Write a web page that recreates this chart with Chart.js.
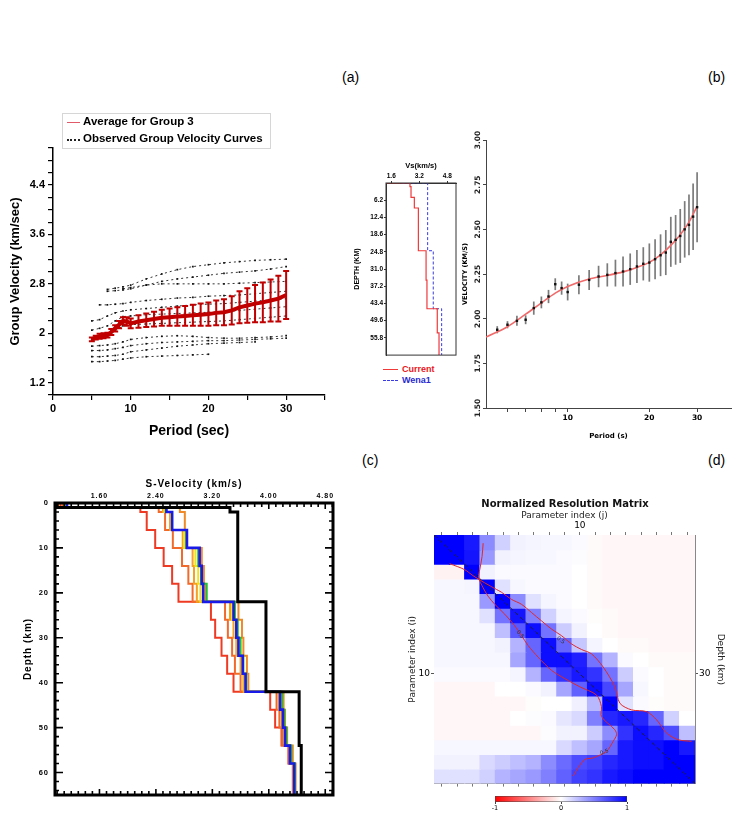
<!DOCTYPE html>
<html>
<head>
<meta charset="utf-8">
<script src="https://cdn.jsdelivr.net/npm/chart.js@4.4.1/dist/chart.umd.min.js"></script>
<style>
  html,body{margin:0;padding:0;background:#fff;}
  #page{position:relative;width:735px;height:820px;overflow:hidden;background:#fff;font-family:"Liberation Sans",Arial,sans-serif;}
  #page canvas{position:absolute;}
  .plab{position:absolute;font-size:14px;line-height:16px;color:#000;}
  .leg{position:absolute;font-family:"Liberation Sans",Arial,sans-serif;font-weight:bold;white-space:nowrap;}
  .leg div{position:absolute;}
</style>
</head>
<body>
<div id="page">
  <div class="plab" style="left:342px;top:69px;">(a)</div>
  <div class="plab" style="left:708px;top:69px;">(b)</div>
  <div class="plab" style="left:362px;top:452px;">(c)</div>
  <div class="plab" style="left:708px;top:452px;">(d)</div>

  <canvas id="cA" width="345" height="340" style="left:0;top:100px;"></canvas>
  <canvas id="cInset" width="120" height="200" style="left:350px;top:160px;"></canvas>
  <canvas id="cB" width="280" height="320" style="left:455px;top:120px;"></canvas>
  <canvas id="cC" width="345" height="340" style="left:0;top:470px;"></canvas>
  <canvas id="cD" width="340" height="300" style="left:395px;top:490px;"></canvas>
  <canvas id="cBar" width="165" height="26" style="left:480px;top:792px;"></canvas>

  <div class="leg" style="left:62px;top:113px;width:207px;height:34px;border:1px solid #d6d6d6;font-size:11.5px;">
    <div style="left:4px;top:8px;width:13px;height:0;border-top:1.5px solid #e05a6a;"></div>
    <div style="left:20px;top:1px;">Average for Group 3</div>
    <div style="left:4px;top:25px;width:13px;height:0;border-top:2px dotted #222;"></div>
    <div style="left:20px;top:18px;">Observed Group Velocity Curves</div>
  </div>

  <div class="leg" style="left:383px;top:364px;font-size:9px;">
    <div style="left:0;top:5px;width:15px;height:0;border-top:1.2px solid #f03a3a;"></div>
    <div style="left:19px;top:0;color:#e8141c;">Current</div>
    <div style="left:0;top:16px;width:15px;height:0;border-top:1.2px dashed #3a3ae6;"></div>
    <div style="left:19px;top:11px;color:#2a2ad0;">Wena1</div>
  </div>
</div>

<script>
// ================= DATA =================
// ---- Panel (a): group velocity curves
const aPeriods = [5,5.5,6,6.5,7,7.5,8,8.5,9,9.5,10,11,12,13,14,15,16,17,18,19,20,21,22,23,24,25,26,27,28,29,30];
const aAverage = [1.90,1.93,1.95,1.96,1.97,2.02,2.08,2.14,2.20,2.19,2.16,2.19,2.21,2.23,2.25,2.26,2.27,2.28,2.29,2.30,2.31,2.33,2.34,2.37,2.42,2.45,2.48,2.50,2.53,2.56,2.62];
const aError   = [0.03,0.03,0.04,0.04,0.04,0.05,0.05,0.06,0.06,0.07,0.08,0.10,0.11,0.12,0.13,0.14,0.15,0.16,0.17,0.18,0.19,0.20,0.21,0.23,0.26,0.28,0.30,0.32,0.34,0.37,0.39];
const aObsPeriods = [5,6,7,8,9,10,12,14,16,18,20,22,24,26,28,30];
const aObs1  = [null,null,2.71,2.73,2.75,2.78,2.88,2.96,3.03,3.08,3.11,3.14,3.16,3.18,3.19,3.20];
const aObs2  = [null,null,2.68,2.69,2.70,2.72,2.78,2.84,2.88,2.91,2.94,2.97,2.99,3.01,3.04,3.08];
const aObs3  = [null,null,null,null,2.72,2.74,2.78,2.80,2.80,2.80,2.80,2.80,2.81,2.82,2.83,2.84];
const aObs4  = [null,2.46,2.46,2.47,2.48,2.50,2.53,2.55,2.57,2.58,2.60,2.61,2.62,2.64,2.66,2.68];
const aObs5  = [2.20,2.22,2.28,2.33,2.36,2.38,2.40,2.42,2.44,2.46,2.47,2.48,2.50,2.52,2.54,2.56];
const aObs6  = [2.05,2.08,2.12,2.20,2.27,2.28,2.30,2.31,2.32,2.33,2.34,2.35,2.37,2.39,2.41,2.43];
const aObs7  = [1.92,1.94,1.98,2.04,2.12,2.14,2.15,2.16,2.17,2.18,2.19,2.20,2.22,2.24,2.26,2.28];
const aObs8  = [1.79,1.80,1.81,1.83,1.86,1.90,1.93,1.95,1.96,1.95,1.93,1.92,1.92,1.93,1.94,1.96];
const aObs9  = [1.72,1.72,1.73,1.75,1.77,1.80,1.83,1.85,1.86,1.87,1.88,1.88,1.89,1.90,1.91,1.92];
const aObs10 = [1.62,1.62,1.63,1.64,1.66,1.70,1.73,1.76,1.79,1.81,1.83,1.84,1.85,1.86,null,null];
const aObs11 = [1.54,1.54,1.55,1.56,1.58,1.60,1.62,1.63,1.64,1.65,1.66,null,null,null,null,null];
const aObserved = [aObs1,aObs2,aObs3,aObs4,aObs5,aObs6,aObs7,aObs8,aObs9,aObs10,aObs11];
const aXLabelValues = [0,10,20,30];
const aYLabelValues = [1.2,2,2.8,3.6,4.4];
const aYLabels = ['1.2','2','2.8','3.6','4.4'];

// ---- Panel (b): dispersion fit
const bPeriods = [5.5,6,6.5,7,7.5,8,8.5,9,9.5,10,11,12,13,14,15,16,17,18,19,20,21,22,23,24,25,26,27,28,29,30];
const bVelocity = [1.938,1.966,1.988,1.994,2.059,2.091,2.124,2.193,2.171,2.149,2.190,2.217,2.236,2.245,2.255,2.264,2.277,2.292,2.307,2.314,2.333,2.355,2.370,2.430,2.441,2.463,2.500,2.525,2.571,2.624];
const bError = [0.020,0.020,0.028,0.025,0.037,0.033,0.037,0.033,0.037,0.047,0.053,0.056,0.060,0.065,0.075,0.084,0.088,0.093,0.093,0.107,0.112,0.117,0.126,0.140,0.139,0.151,0.158,0.170,0.186,0.196];
const bFitPeriods = [5,6,7,8,9,10,12,14,16,18,20,22,24,26,28,30];
const bFitVelocity = [1.897,1.955,2.025,2.088,2.143,2.180,2.222,2.242,2.262,2.287,2.315,2.357,2.410,2.470,2.540,2.630];
const bXTickValues = [6,7,8,9,10,20,30];
const bXLabelValues = [10,20,30];
const bYTickValues = [1.5,1.75,2.0,2.25,2.5,2.75,3.0];

// ---- Panel (b) inset: Vs profiles
const insetCurrentDepth = [0,0,1.3,5.2,9.0,24.4,35,45.3,54,62];
const insetCurrentVs    = [1.3,2.67,2.73,2.92,3.15,3.59,3.64,4.23,4.33,4.33];
const insetWenaDepth = [0,0,24.4,45.3,62];
const insetWenaVs    = [2.2,3.68,4.0,4.48,4.48];
const insetVsTicks = [1.6,3.2,4.8];
const insetDepthTicks = [6.2,12.4,18.6,24.8,31.0,37.2,43.4,49.6,55.8];

// ---- Panel (c): S-velocity models (layer tops in km)
const cLayerTop = [0,1,2,6,10,14,18,22,26,30,34,38,42,46,50,54,58];
const cBottom = 65;
const cBlack   = [1.00,3.45,3.56,3.56,3.56,3.56,3.56,3.96,3.96,3.96,3.96,3.96,4.43,4.43,4.43,4.46,4.46];
const cBlue    = [1.14,2.55,2.63,2.84,3.02,3.05,3.07,3.50,3.54,3.57,3.63,3.67,4.16,4.20,4.23,4.30,4.36];
const cRed     = [1.05,2.18,2.27,2.39,2.51,2.63,2.72,3.18,3.24,3.33,3.41,3.50,4.02,4.09,4.18,4.28,4.35];
const cRedOrange = [1.08,2.44,2.53,2.64,2.77,2.86,2.92,3.38,3.42,3.48,3.52,3.60,4.11,4.15,4.19,4.28,4.34];
const cOrange  = [1.10,2.50,2.60,2.78,2.92,2.94,2.98,3.45,3.50,3.54,3.60,3.64,4.14,4.18,4.22,4.30,4.35];
const cYellow  = [1.12,2.52,2.62,2.80,2.96,3.00,3.03,3.48,3.53,3.56,3.62,3.66,4.16,4.20,4.24,4.31,4.36];
const cGreen   = [1.13,2.54,2.63,2.83,3.00,3.04,3.12,3.52,3.56,3.60,3.64,3.68,4.19,4.22,4.25,4.32,4.37];
const cOrange2 = [1.02,2.74,2.81,2.84,3.05,3.08,3.10,3.57,3.62,3.64,3.69,3.71,4.21,4.23,4.26,4.34,4.38];
const cXLabelValues = [1.6,2.4,3.2,4.0,4.8];
const cYLabelValues = [0,10,20,30,40,50,60];

// ---- Panel (d): normalized resolution matrix (rows i, cols j)
const resMatrix = [
  [1.00,1.00,0.90,0.45,0.18,0.05,0.04,0.03,0.03,0.02,-0.02,-0.03,-0.03,-0.03,-0.03,-0.03,-0.03],
  [1.00,1.00,0.92,0.40,0.05,0.04,0.03,0.03,0.02,0.01,-0.02,-0.03,-0.03,-0.03,-0.03,-0.03,-0.03],
  [-0.05,-0.05,1.00,0.05,0.02,0.02,0.02,0.02,0.02,0.00,-0.02,-0.03,-0.03,-0.03,-0.03,-0.03,-0.03],
  [0.03,0.03,0.04,1.00,0.12,0.03,0.02,0.02,0.02,0.00,-0.02,-0.03,-0.03,-0.03,-0.03,-0.03,-0.03],
  [0.03,0.03,0.03,0.40,1.00,0.45,0.12,0.04,0.02,0.00,-0.02,-0.03,-0.03,-0.03,-0.03,-0.03,-0.03],
  [0.03,0.03,0.03,0.12,0.55,0.92,0.50,0.18,0.04,0.02,-0.01,-0.02,-0.03,-0.03,-0.03,-0.03,-0.03],
  [0.03,0.03,0.03,0.03,0.25,0.65,0.95,0.55,0.20,0.05,0.00,-0.02,-0.03,-0.03,-0.03,-0.03,-0.03],
  [0.03,0.03,0.03,0.03,0.05,0.30,0.60,0.95,0.60,0.22,0.04,0.00,-0.02,-0.02,-0.03,-0.03,-0.03],
  [0.03,0.03,0.03,0.03,0.03,0.35,0.60,0.95,0.95,0.88,0.55,0.30,0.02,0.00,-0.02,-0.02,-0.02],
  [0.02,0.02,0.02,0.02,0.02,0.04,0.30,0.60,0.80,0.90,0.80,0.55,0.20,0.02,0.00,-0.02,-0.02],
  [-0.03,-0.03,-0.03,-0.03,0.00,0.00,0.02,0.05,0.35,0.62,0.95,0.72,0.35,0.03,0.00,-0.02,-0.02],
  [-0.03,-0.03,-0.03,-0.03,-0.03,-0.03,-0.01,0.00,0.00,0.06,0.28,1.00,0.12,0.02,-0.01,-0.02,-0.02],
  [-0.03,-0.03,-0.03,-0.03,-0.03,0.00,0.01,0.02,0.10,0.15,0.50,0.85,0.90,0.85,0.60,0.18,0.00],
  [-0.03,-0.03,-0.03,-0.03,-0.03,-0.03,-0.03,0.01,0.05,0.05,0.20,0.45,0.80,0.95,0.85,0.70,0.25],
  [0.03,0.03,0.03,0.03,0.03,0.03,0.03,0.03,0.15,0.25,0.35,0.60,0.90,0.95,0.95,1.00,0.90],
  [0.05,0.05,0.05,0.15,0.20,0.25,0.30,0.45,0.58,0.70,0.75,0.85,0.90,0.95,0.95,1.00,1.00],
  [0.12,0.12,0.12,0.18,0.30,0.35,0.40,0.50,0.62,0.75,0.80,0.90,0.95,1.00,1.00,1.00,1.00]
];
const dContourUpper = [[1.52,2.46],[2.5,2.87],[3.04,3.28],[3.8,3.77],[4.56,4.22],[4.89,4.41],[5.54,4.9],[6.2,5.24],[6.85,5.8],[7.5,6.37],[8.15,6.93],[8.8,7.38],[9.46,7.95],[10.11,8.33],[10.76,8.63],[11.52,9.53],[12.28,10.88],[12.61,12.01],[13.37,12.46],[14.35,12.58],[15.0,13.14],[15.65,14.04],[16.41,14.5],[17.28,14.61]];
const dContourLower = [[3.7,1.06],[3.63,1.97],[3.48,2.87],[3.4,3.4],[3.7,4.11],[4.02,4.68],[4.46,5.24],[5.11,5.92],[5.76,6.71],[6.2,7.38],[6.63,8.06],[7.28,8.85],[8.15,9.75],[9.02,10.32],[10.0,10.88],[11.09,11.45],[11.41,12.24],[11.41,12.92],[12.28,13.82],[12.39,14.16],[12.17,14.61],[11.74,15.29],[10.87,15.74],[10.33,15.85],[9.89,16.41],[9.57,16.98]];
const dContourLabels = [{x:6.1,y:7.3,rot:0.9,text:'0.5'},{x:8.75,y:7.7,rot:0.6,text:'0.5'},{x:11.6,y:15.35,rot:-0.35,text:'0.5'}];
const dColumns = [1,2,3,4,5,6,7,8,9,10,11,12,13,14,15,16,17];
const dLabelIndex = 10;
const dDepthTickLabel = '30';
const cbTicks = [-1,0,1];

// ================= HELPERS =================
Chart.defaults.animation = false;
Chart.defaults.events = [];
Chart.defaults.plugins.legend.display = false;
Chart.defaults.plugins.tooltip.enabled = false;
Chart.defaults.color = '#000';
Chart.defaults.font.family = '"Liberation Sans", Arial, sans-serif';

const range = (a, b, s) => { const o = []; for (let k = 0; a + k * s <= b + 1e-9; k++) o.push(Math.round((a + k * s) * 1000) / 1000); return o; };
const setTicks = vals => scale => { scale.ticks = vals.map(v => ({ value: v })); };
const fixWidth = w => scale => { scale.width = w; };
const fixHeight = h => scale => { scale.height = h; };
const near = (a, b) => Math.abs(a - b) < 1e-6;
const pts = (xs, ys) => xs.map((x, i) => (ys[i] == null ? null : { x: x, y: ys[i] })).filter(Boolean);

function errorBars(id, xs, centers, errs, color, width, cap, before) {
  const draw = chart => {
    const xS = chart.scales.x, yS = chart.scales.y, ctx = chart.ctx;
    ctx.save(); ctx.strokeStyle = color; ctx.lineWidth = width;
    xs.forEach((xv, i) => {
      const px = xS.getPixelForValue(xv);
      const y1 = yS.getPixelForValue(centers[i] - errs[i]);
      const y2 = yS.getPixelForValue(centers[i] + errs[i]);
      ctx.beginPath(); ctx.moveTo(px, y1); ctx.lineTo(px, y2);
      if (cap) { ctx.moveTo(px - cap, y1); ctx.lineTo(px + cap, y1); ctx.moveTo(px - cap, y2); ctx.lineTo(px + cap, y2); }
      ctx.stroke();
    });
    ctx.restore();
  };
  return before ? { id, beforeDatasetsDraw: draw } : { id, afterDatasetsDraw: draw };
}
function framePlugin(id, width, color) {
  return { id, afterDraw(chart) { const a = chart.chartArea, ctx = chart.ctx; ctx.save(); ctx.strokeStyle = color; ctx.lineWidth = width; ctx.strokeRect(a.left, a.top, a.right - a.left, a.bottom - a.top); ctx.restore(); } };
}

// ================= PANEL (a) =================
const aYTickValues = range(1, 5, 0.2);
new Chart(document.getElementById('cA'), {
  type: 'line',
  data: { datasets: [
    { data: pts(aPeriods, aAverage), borderColor: '#c00000', borderWidth: 4, pointRadius: 0, order: 0 },
    ...aObserved.map(c => ({ data: pts(aObsPeriods, c), borderColor: '#333', borderWidth: 1, borderDash: [2, 3],
      pointRadius: 1.2, pointStyle: 'rect', pointBackgroundColor: '#111', pointBorderWidth: 0, order: 1 }))
  ]},
  options: {
    responsive: false,
    layout: { padding: { left: 6, right: 20, top: 48, bottom: 0 } },
    scales: {
      x: { type: 'linear', min: 0, max: 35, afterBuildTicks: setTicks(range(0, 35, 5)), afterFit: fixHeight(45),
        ticks: { autoSkip: false, maxRotation: 0, padding: 2, font: { size: 11, weight: 'bold' },
          callback: v => aXLabelValues.includes(v) ? String(v) : '' },
        grid: { drawOnChartArea: false, tickLength: 5, color: '#000', lineWidth: 1.2 },
        border: { color: '#000', width: 1.5 },
        title: { display: true, text: 'Period (sec)', font: { size: 14, weight: 'bold' }, padding: { top: 2, bottom: 0 } } },
      y: { type: 'linear', min: 1, max: 5, afterBuildTicks: setTicks(aYTickValues), afterFit: fixWidth(47),
        ticks: { autoSkip: false, padding: 3, font: { size: 11, weight: 'bold' },
          callback: v => { const k = aYLabelValues.findIndex(t => near(t, v)); return k >= 0 ? aYLabels[k] : ''; } },
        grid: { drawOnChartArea: false, tickLength: 5, color: '#000', lineWidth: 1.2 },
        border: { color: '#000', width: 1.5 },
        title: { display: true, text: 'Group Velocity (km/sec)', font: { size: 13, weight: 'bold' }, padding: { top: 2, bottom: 0 } } }
    }
  },
  plugins: [errorBars('aErr', aPeriods, aAverage, aError, '#c00000', 2, 3, false)]
});

// ================= PANEL (b) inset =================
new Chart(document.getElementById('cInset'), {
  type: 'line',
  data: { datasets: [
    { data: pts(insetCurrentVs, insetCurrentDepth), stepped: 'after', borderColor: '#f03a3a', borderWidth: 1.2, pointRadius: 0 },
    { data: pts(insetWenaVs, insetWenaDepth), stepped: 'after', borderColor: '#3a3ae6', borderWidth: 1, borderDash: [3, 2], pointRadius: 0 }
  ]},
  options: {
    responsive: false,
    layout: { padding: { left: 0, right: 14, top: 0, bottom: 2 } },
    scales: {
      x: { type: 'linear', position: 'top', min: 1.3, max: 5.3, afterBuildTicks: setTicks(insetVsTicks), afterFit: fixHeight(23),
        ticks: { autoSkip: false, maxRotation: 0, padding: 1, font: { size: 6.5, weight: 'bold' }, callback: v => v.toFixed(1) },
        grid: { drawOnChartArea: false, tickLength: 2, color: '#333' }, border: { color: '#333', width: 1 },
        title: { display: true, text: 'Vs(km/s)', font: { size: 7.5, weight: 'bold' }, padding: { top: 1, bottom: 0 } } },
      y: { type: 'linear', reverse: true, min: 0, max: 62, afterBuildTicks: setTicks(insetDepthTicks), afterFit: fixWidth(36),
        ticks: { autoSkip: false, padding: 1, font: { size: 6.5, weight: 'bold' }, callback: v => v.toFixed(1) },
        grid: { drawOnChartArea: false, tickLength: 2, color: '#333' }, border: { color: '#333', width: 1 },
        title: { display: true, text: 'DEPTH (KM)', font: { size: 7, weight: 'bold' }, padding: { top: 3, bottom: 0 } } }
    }
  },
  plugins: [framePlugin('insetFrame', 1, '#333')]
});

// ================= PANEL (b) =================
const bRotLabels = { id: 'bRotLabels', afterDraw(chart) {
  const s = chart.scales.y, ctx = chart.ctx;
  ctx.save(); ctx.font = 'bold 7.5px "DejaVu Sans", Verdana, sans-serif'; ctx.fillStyle = '#222';
  ctx.textAlign = 'center'; ctx.textBaseline = 'middle';
  bYTickValues.forEach(v => { ctx.save(); ctx.translate(s.right - 8, s.getPixelForValue(v)); ctx.rotate(-Math.PI / 2); ctx.fillText(v.toFixed(2), 0, 0); ctx.restore(); });
  ctx.restore();
} };
new Chart(document.getElementById('cB'), {
  type: 'line',
  data: { datasets: [
    { data: pts(bPeriods, bVelocity), showLine: false, pointRadius: 1.7, pointStyle: 'rect', pointBackgroundColor: '#111', pointBorderWidth: 0, order: 0 },
    { data: pts(bFitPeriods, bFitVelocity), borderColor: '#f06a6a', borderWidth: 1.6, pointRadius: 0, cubicInterpolationMode: 'monotone', order: 1 }
  ]},
  options: {
    responsive: false,
    layout: { padding: { left: 0, right: 2, top: 20, bottom: 0 } },
    scales: {
      x: { type: 'logarithmic', min: 5, max: 40, afterBuildTicks: setTicks(bXTickValues), afterFit: fixHeight(32),
        ticks: { autoSkip: false, maxRotation: 0, padding: 2, font: { family: '"DejaVu Sans", Verdana, sans-serif', size: 7.5, weight: 'bold' },
          callback: v => bXLabelValues.includes(v) ? String(v) : '' },
        grid: { drawOnChartArea: false, tickLength: 4, color: '#444' }, border: { color: '#444', width: 1 },
        title: { display: true, text: 'Period (s)', font: { family: '"DejaVu Sans", Verdana, sans-serif', size: 7, weight: 'bold' }, padding: { top: 2, bottom: 0 } } },
      y: { type: 'linear', min: 1.5, max: 3.0, afterBuildTicks: setTicks(bYTickValues), afterFit: fixWidth(31),
        ticks: { display: false },
        grid: { drawOnChartArea: false, tickLength: 3, color: '#444' }, border: { color: '#444', width: 1 },
        title: { display: true, text: 'VELOCITY (KM/S)', font: { family: '"DejaVu Sans", Verdana, sans-serif', size: 6.5, weight: 'bold' }, padding: { top: 6, bottom: 0 } } }
    }
  },
  plugins: [errorBars('bErr', bPeriods, bVelocity, bError, 'rgba(100,100,100,0.85)', 1.7, 0, true), bRotLabels]
});

// ================= PANEL (c) =================
const cDepthPts = [...cLayerTop, cBottom];
const cModelList = [
  { v: cBlack, color: '#000000', w: 3 },
  { v: cBlue, color: '#1a1ae6', w: 2.6 },
  { v: cGreen, color: '#22c02a', w: 2 },
  { v: cYellow, color: '#f2e21c', w: 2 },
  { v: cOrange, color: '#f5a020', w: 2 },
  { v: cOrange2, color: '#f08a28', w: 2 },
  { v: cRedOrange, color: '#f26a2a', w: 2 },
  { v: cRed, color: '#ee3a22', w: 2 }
];
const cXMinor = range(1.0, 4.9, 0.1);
const cYMinor = range(0, 64, 2);
const cSpacing = { id: 'cSpacing',
  beforeUpdate(chart) { chart.ctx.letterSpacing = '1px'; },
  beforeDraw(chart) { chart.ctx.letterSpacing = '1px'; } };
const cTicksFrame = { id: 'cTicksFrame', afterDatasetsDraw(chart) {
  const { ctx, chartArea: { left, right, top, bottom }, scales: { x, y } } = chart;
  ctx.save(); ctx.strokeStyle = '#000'; ctx.lineWidth = 1.6;
  ctx.beginPath();
  cXMinor.forEach(v => { const px = x.getPixelForValue(v); const L = cXLabelValues.some(m => near(m, v)) ? 6 : 4;
    ctx.moveTo(px, top); ctx.lineTo(px, top + L); ctx.moveTo(px, bottom); ctx.lineTo(px, bottom - L); });
  cYMinor.forEach(v => { const py = y.getPixelForValue(v); const L = cYLabelValues.includes(v) ? 8 : 4;
    ctx.moveTo(left, py); ctx.lineTo(left + L, py); ctx.moveTo(right, py); ctx.lineTo(right - L, py); });
  ctx.stroke();
  ctx.lineWidth = 3; ctx.strokeRect(left, top, right - left, bottom - top);
  ctx.restore();
} };
new Chart(document.getElementById('cC'), {
  type: 'line',
  data: { datasets: cModelList.map((m, i) => ({
    data: pts([...m.v, m.v[m.v.length - 1]], cDepthPts), stepped: 'after',
    borderColor: m.color, borderWidth: m.w, pointRadius: 0, order: i })) },
  options: {
    responsive: false,
    layout: { padding: { left: 20, right: 12, top: 0, bottom: 15 } },
    scales: {
      x: { type: 'linear', position: 'top', min: 0.97, max: 4.91, afterBuildTicks: setTicks(cXLabelValues), afterFit: fixHeight(33),
        ticks: { autoSkip: false, maxRotation: 0, padding: 3, font: { size: 7, weight: 'bold' }, callback: v => v.toFixed(2) },
        grid: { display: false, drawTicks: false, tickLength: 0 }, border: { display: false },
        title: { display: true, text: 'S-Velocity (km/s)', font: { size: 10, weight: 'bold' }, padding: { top: 8, bottom: 1 } } },
      y: { type: 'linear', reverse: true, min: 0, max: 65, afterBuildTicks: setTicks(cYLabelValues), afterFit: fixWidth(35),
        ticks: { autoSkip: false, padding: 6, font: { size: 7.5, weight: 'bold' }, callback: v => String(v) },
        grid: { display: false, drawTicks: false, tickLength: 0 }, border: { display: false },
        title: { display: true, text: 'Depth (km)', font: { size: 10, weight: 'bold' }, padding: { top: 2, bottom: 0 } } }
    }
  },
  plugins: [cSpacing, cTicksFrame]
});

// ================= PANEL (d) =================
const cellColor = v => {
  if (v >= 0) { const c = Math.round(255 * (1 - Math.min(v, 1))); return `rgb(${c},${c},255)`; }
  const c = Math.round(255 * (1 + Math.max(v, -1))); return `rgb(255,${c},${c})`;
};
const dFont = '"DejaVu Sans", Verdana, sans-serif';
const dLabels = { id: 'dLabels', afterDatasetsDraw(chart) {
  const { ctx, scales: { x, y } } = chart;
  ctx.save(); ctx.font = `5.5px ${dFont}`; ctx.fillStyle = '#333'; ctx.textAlign = 'center'; ctx.textBaseline = 'middle';
  dContourLabels.forEach(l => { ctx.save(); ctx.translate(x.getPixelForValue(l.x), y.getPixelForValue(l.y)); ctx.rotate(l.rot); ctx.fillText(l.text, 0, 0); ctx.restore(); });
  ctx.restore();
} };
const matrixSets = resMatrix.map((row, i) => ({
  type: 'bar',
  data: row.map((v, j) => ({ x: dColumns[j], y: [i + 0.5, i + 1.5] })),
  backgroundColor: row.map(cellColor), borderWidth: 0, inflateAmount: 0.6,
  grouped: false, barPercentage: 1, categoryPercentage: 1, order: 5
}));
new Chart(document.getElementById('cD'), {
  type: 'bar',
  data: { datasets: [
    ...matrixSets,
    { type: 'line', data: [{ x: 0.5, y: 0.5 }, { x: 17.5, y: 17.5 }], borderColor: '#222', borderWidth: 1, borderDash: [4, 3], pointRadius: 0, order: 1 },
    { type: 'line', data: dContourUpper.map(p => ({ x: p[0], y: p[1] })), borderColor: '#e02828', borderWidth: 1, pointRadius: 0, tension: 0.3, order: 0 },
    { type: 'line', data: dContourLower.map(p => ({ x: p[0], y: p[1] })), borderColor: '#e02828', borderWidth: 1, pointRadius: 0, tension: 0.3, order: 0 }
  ]},
  options: {
    responsive: false,
    layout: { padding: 0 },
    plugins: { title: { display: true, text: 'Normalized Resolution Matrix', font: { family: dFont, size: 10, weight: 'bold' }, padding: { top: 8, bottom: 0 }, color: '#111' } },
    scales: {
      x: { type: 'linear', position: 'top', offset: false, min: 0.5, max: 17.5, z: 1, afterBuildTicks: setTicks(dColumns), afterFit: fixHeight(25),
        ticks: { autoSkip: false, maxRotation: 0, padding: 1, font: { family: dFont, size: 9 }, callback: v => v === dLabelIndex ? String(v) : '' },
        grid: { offset: false, drawOnChartArea: true, tickLength: 3, tickColor: '#777',
          color: c => (c.tick && c.tick.value === dLabelIndex) ? 'rgba(150,150,150,0.7)' : 'rgba(0,0,0,0)' },
        border: { color: '#888', width: 1 },
        title: { display: true, text: 'Parameter index (j)', font: { family: dFont, size: 9 }, padding: { top: 0, bottom: 0 }, color: '#222' } },
      x2: { type: 'linear', position: 'bottom', offset: false, min: 0.5, max: 17.5, afterBuildTicks: setTicks(dColumns), afterFit: fixHeight(4),
        ticks: { display: false }, grid: { offset: false, drawOnChartArea: false, tickLength: 3, tickColor: '#777' }, border: { color: '#888', width: 1 } },
      y: { type: 'linear', reverse: true, min: 0.5, max: 17.5, afterBuildTicks: setTicks([dLabelIndex]), afterFit: fixWidth(39),
        ticks: { autoSkip: false, padding: 1, font: { family: dFont, size: 9 }, callback: v => String(v) },
        grid: { drawOnChartArea: false, tickLength: 3, tickColor: '#555' }, border: { color: '#888', width: 1 },
        title: { display: true, text: 'Parameter index (i)', font: { family: dFont, size: 9 }, padding: { top: 12, bottom: 0 }, color: '#222' } },
      y2: { type: 'linear', position: 'right', reverse: true, min: 0.5, max: 17.5, afterBuildTicks: setTicks([dLabelIndex]), afterFit: fixWidth(40),
        ticks: { autoSkip: false, padding: 1, font: { family: dFont, size: 9 }, callback: () => dDepthTickLabel },
        grid: { drawOnChartArea: false, tickLength: 3, tickColor: '#555' }, border: { color: '#888', width: 1 },
        title: { display: true, text: 'Depth (km)', font: { family: dFont, size: 9 }, padding: { top: 9, bottom: 0 }, color: '#222' } }
    }
  },
  plugins: [dLabels]
});

// ---- colour bar
new Chart(document.getElementById('cBar'), {
  type: 'bar',
  data: { labels: ['scale'], datasets: [{
    data: [[-1, 1]],
    backgroundColor: c => { const a = c.chart.chartArea; if (!a) return '#fff';
      const g = c.chart.ctx.createLinearGradient(a.left, 0, a.right, 0);
      g.addColorStop(0, cellColor(-1)); g.addColorStop(0.5, cellColor(0)); g.addColorStop(1, cellColor(1)); return g; },
    borderColor: '#444', borderWidth: 0.8, borderSkipped: false, barPercentage: 1, categoryPercentage: 1 }] },
  options: {
    responsive: false, indexAxis: 'y',
    layout: { padding: { left: 15, right: 18, top: 4, bottom: 0 } },
    scales: {
      x: { type: 'linear', min: -1, max: 1, afterBuildTicks: setTicks(cbTicks), afterFit: fixHeight(16),
        ticks: { autoSkip: false, maxRotation: 0, padding: 0, font: { family: dFont, size: 6.5 }, callback: v => String(v) },
        grid: { drawOnChartArea: false, tickLength: 2, color: '#444' }, border: { display: false } },
      y: { display: false }
    }
  }
});
</script>
</body>
</html>
